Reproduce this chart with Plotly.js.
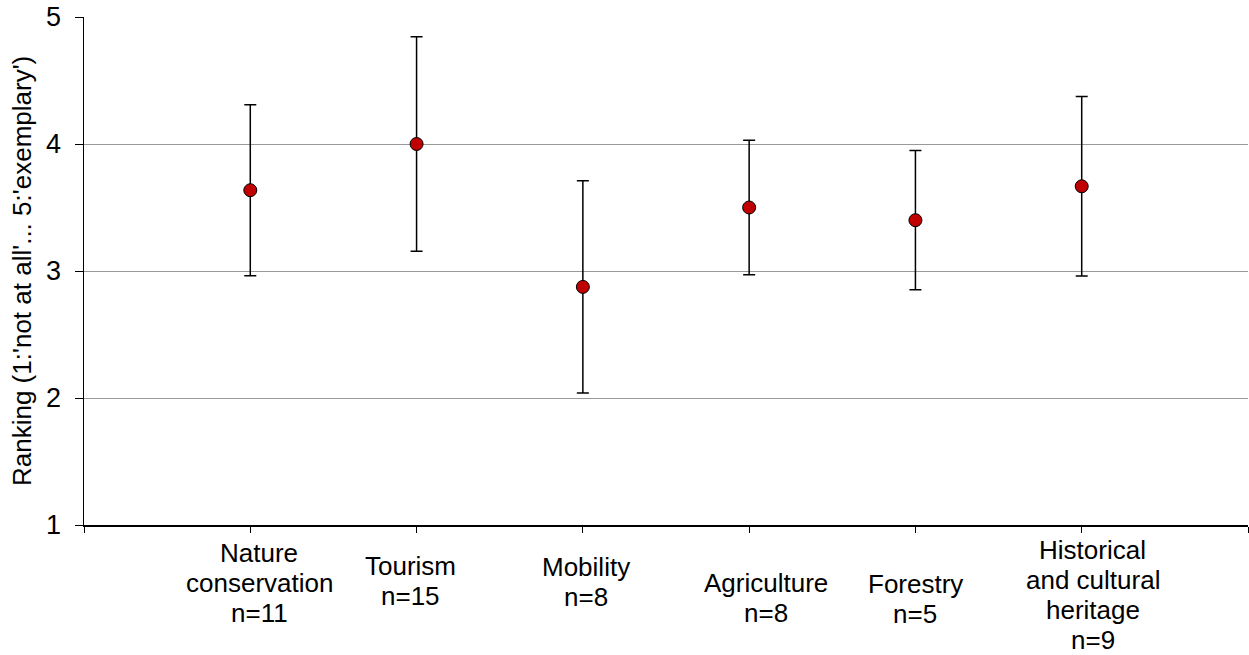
<!DOCTYPE html>
<html>
<head>
<meta charset="utf-8">
<script src="https://cdn.plot.ly/plotly-3.0.1.min.js"></script>
<style>html,body{margin:0;padding:0;background:#fff;}#chart{width:1249px;height:655px;}</style>
</head>
<body>
<div id="chart"></div>
<script>
// ---- data ----
const categories = ['Nature conservation', 'Tourism', 'Mobility', 'Agriculture', 'Forestry', 'Historical and cultural heritage'];
const labelLines = [
  ['Nature', 'conservation', 'n=11'],
  ['Tourism', 'n=15'],
  ['Mobility', 'n=8'],
  ['Agriculture', 'n=8'],
  ['Forestry', 'n=5'],
  ['Historical', 'and cultural', 'heritage', 'n=9']
];
const meanRanking = [3.636, 4.0, 2.875, 3.5, 3.4, 3.667];
const sdRanking = [0.673, 0.845, 0.835, 0.53, 0.548, 0.707];
const yTickVals = [1, 2, 3, 4, 5];
const yTitle = "Ranking (1:'not at all'... 5:'exemplary')";

// ---- layout helpers (pixel placement of the text boxes) ----
const labelXShift = [9, -6, 3, 17, 0, 11];
const labelCenterY = [583, 581, 582, 598, 599, 595]; // px from top of figure
const plotBottom = 525;
const lineGap = 30;
const FONT = 'Arial, "Liberation Sans", Helvetica, sans-serif';

const xPos = categories.map((c, i) => i + 1);

const trace = {
  x: xPos,
  y: meanRanking,
  type: 'scatter',
  mode: 'markers',
  marker: {color: '#c00000', size: 13, line: {color: '#000', width: 1}},
  error_y: {type: 'data', array: sdRanking, visible: true, color: '#000', thickness: 1.5, width: 6},
  hoverinfo: 'x+y',
  showlegend: false
};

const annotations = [];
labelLines.forEach((lines, i) => {
  const k = lines.length;
  lines.forEach((txt, j) => {
    const cy = labelCenterY[i] + (j - (k - 1) / 2) * lineGap;
    annotations.push({
      x: xPos[i], xref: 'x', y: 0, yref: 'paper',
      text: txt, showarrow: false,
      xanchor: 'center', yanchor: 'middle', borderpad: 0,
      xshift: labelXShift[i], yshift: -(cy - plotBottom),
      font: {family: FONT, size: 26, color: '#000'}
    });
  });
});
annotations.push({
  x: 0, xref: 'paper', y: 0.5, yref: 'paper',
  text: yTitle, showarrow: false, textangle: -90,
  xanchor: 'center', yanchor: 'middle', xshift: -62,
  font: {family: FONT, size: 26, color: '#000'}
});

const layout = {
  width: 1249, height: 655,
  margin: {l: 84, r: 1, t: 17, b: 130},
  paper_bgcolor: '#fff', plot_bgcolor: '#fff',
  font: {family: FONT, color: '#000'},
  xaxis: {
    range: [0, 7], tickmode: 'array', tickvals: [0, 1, 2, 3, 4, 5, 6, 7],
    showticklabels: false, ticks: 'outside', ticklen: 6, tickcolor: '#000', tickwidth: 1,
    showline: true, linecolor: '#000', linewidth: 1.5, showgrid: false, zeroline: false, fixedrange: true
  },
  yaxis: {
    range: [1, 5], tickmode: 'array', tickvals: yTickVals,
    ticks: 'outside', ticklen: 8, tickcolor: '#000', tickwidth: 1,
    ticklabelstandoff: 8,
    tickfont: {family: FONT, size: 27, color: '#000'},
    showline: true, linecolor: '#000', linewidth: 1.5,
    showgrid: true, gridcolor: '#999', gridwidth: 1, zeroline: false, fixedrange: true
  },
  annotations: annotations
};

Plotly.newPlot('chart', [trace], layout, {displayModeBar: false, staticPlot: true});
</script>
</body>
</html>
